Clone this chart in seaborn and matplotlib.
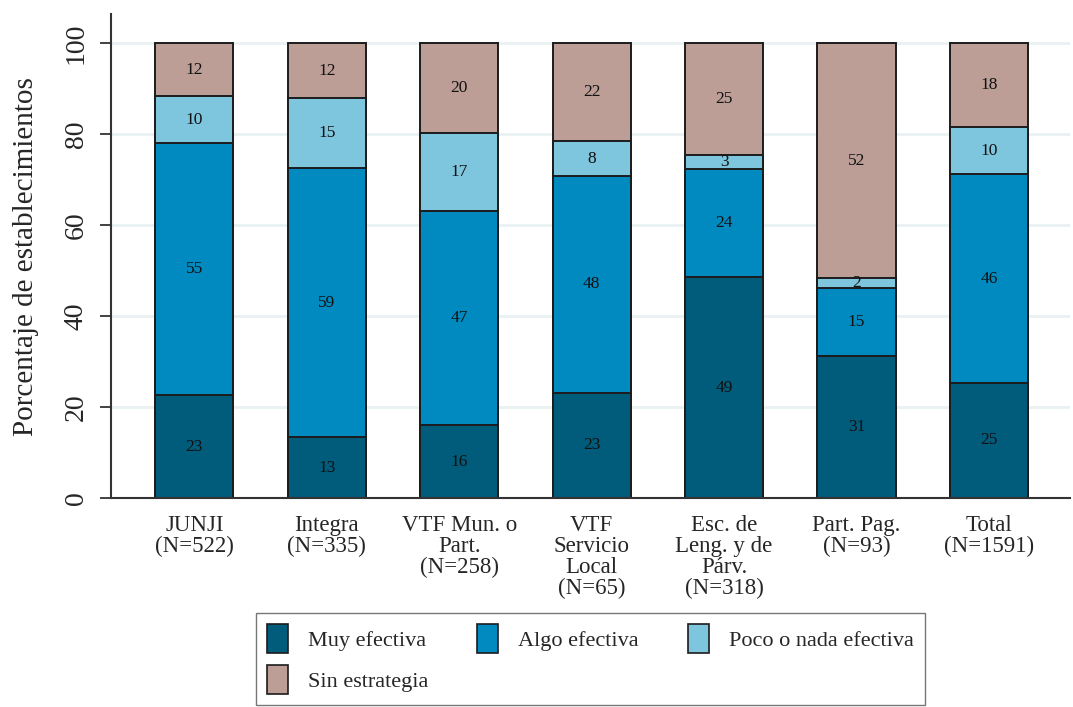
import numpy as np
import pandas as pd
import matplotlib
matplotlib.use("Agg")
import matplotlib.pyplot as plt
import matplotlib.patches as mpatches
import seaborn as sns

# ─── Datos ───────────────────────────────────────────────────────────────────
categorias = [
    "JUNJI\n(N=522)",
    "Integra\n(N=335)",
    "VTF Mun. o\nPart.\n(N=258)",
    "VTF\nServicio\nLocal\n(N=65)",
    "Esc. de\nLeng. y de\nPárv.\n(N=318)",
    "Part. Pag.\n(N=93)",
    "Total\n(N=1591)",
]
muy_efectiva  = [22.6, 13.4, 16.0, 23.1, 48.6, 31.2, 25.3]
algo_efectiva = [55.4, 59.1, 47.1, 47.7, 23.8, 15.0, 45.9]
poco_efectiva = [10.3, 15.4, 17.1,  7.6,  3.0,  2.2, 10.4]
sin_estrategia = [11.7, 12.1, 19.8, 21.6, 24.6, 51.6, 18.4]

series = ["Muy efectiva", "Algo efectiva", "Poco o nada efectiva", "Sin estrategia"]
colores = {
    "Muy efectiva":         "#015b7b",
    "Algo efectiva":        "#008abf",
    "Poco o nada efectiva": "#7ec5de",
    "Sin estrategia":       "#bc9e96",
}

df = pd.DataFrame({
    "categoria": categorias,
    "Muy efectiva": muy_efectiva,
    "Algo efectiva": algo_efectiva,
    "Poco o nada efectiva": poco_efectiva,
    "Sin estrategia": sin_estrategia,
})
acum = df[series].cumsum(axis=1)

# ─── Estilo ──────────────────────────────────────────────────────────────────
sns.set_theme(style="white")
plt.rcParams["font.family"] = ["Liberation Serif", "DejaVu Serif"]

fig = plt.figure(figsize=(10.73, 7.07), dpi=100)
ax = fig.add_axes([0.1034, 0.2956, 0.8936, 0.6844])

ax.set_axisbelow(True)
for y in [20, 40, 60, 80, 100]:
    ax.axhline(y, color="#e9f1f3", lw=2, zorder=0)

# barras apiladas: se dibujan los acumulados de arriba hacia abajo
ancho = 0.59
for s in reversed(series):
    sns.barplot(
        x=df["categoria"], y=acum[s],
        color=colores[s], saturation=1, width=ancho,
        edgecolor="#1c1c1c", linewidth=1.4, ax=ax, zorder=2,
    )

# etiquetas en cada segmento
for i in range(len(categorias)):
    base = 0
    for s in series:
        v = df.loc[i, s]
        ax.text(i, base + v / 2, f"{round(v):d}",
                ha="center", va="center", fontsize=12.5, color="#111111", zorder=5)
        base += v

ax.set_xlim(-0.63, 6.61)
ax.set_ylim(0, 106.4)
ax.set_yticks([0, 20, 40, 60, 80, 100])
ax.set_yticklabels(["0", "20", "40", "60", "80", "100"],
                   rotation=90, va="center", fontsize=20)
ax.set_xticks(range(len(categorias)))
ax.set_xticklabels(categorias, fontsize=16.5, linespacing=1.0,
                   multialignment="center")
ax.set_xlabel("")
ax.set_ylabel("Porcentaje de establecimientos", fontsize=21)
ax.yaxis.set_label_coords(-0.075, 0.5)

ax.tick_params(axis="y", length=8, width=1.3, color="#333333", pad=8, left=True)
ax.tick_params(axis="x", length=0, pad=12)
for lado in ["top", "right"]:
    ax.spines[lado].set_visible(False)
for lado in ["left", "bottom"]:
    ax.spines[lado].set_color("#333333")
    ax.spines[lado].set_linewidth(1.5)

# leyenda (orden por filas)
h = {s: mpatches.Patch(facecolor=colores[s], edgecolor="#1c1c1c", linewidth=1.2,
                       label=s) for s in series}
orden = ["Muy efectiva", "Sin estrategia", "Algo efectiva", "Poco o nada efectiva"]
fig.legend(handles=[h[s] for s in orden], loc="lower center",
           bbox_to_anchor=(0.55, 0.003), ncol=3, fontsize=16,
           frameon=True, fancybox=False, edgecolor="#555555",
           handlelength=0.95, handleheight=1.6, columnspacing=2.2,
           handletextpad=0.9, borderpad=0.5, labelspacing=0.55,
           borderaxespad=0)

plt.savefig("out.png", dpi=100)
